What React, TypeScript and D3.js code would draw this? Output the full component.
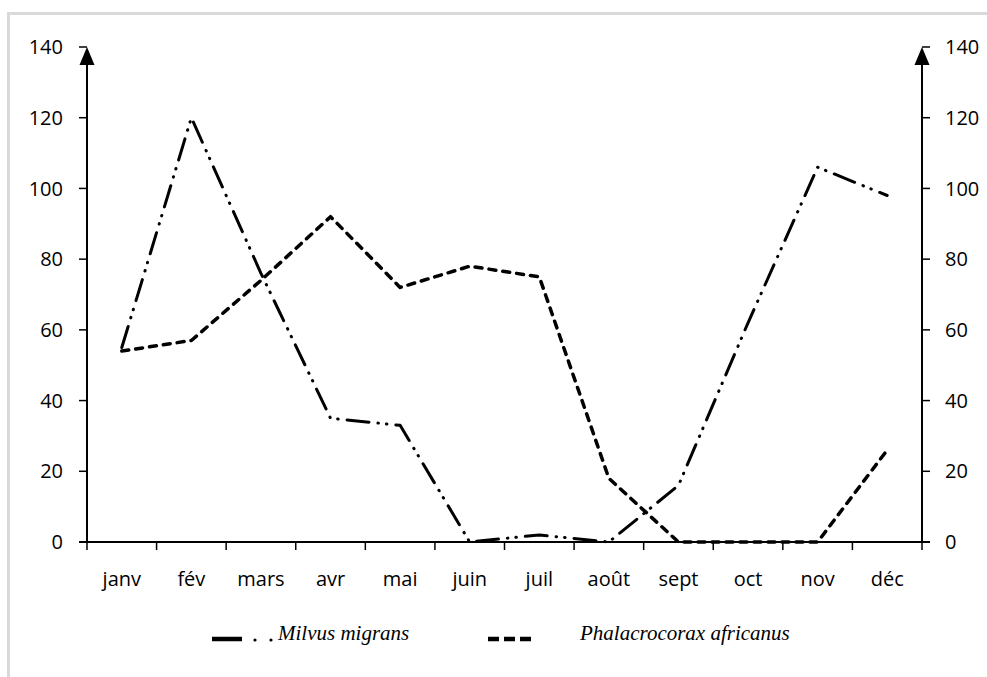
import React from "react";
import * as d3 from "d3";

const months = ["janv", "fév", "mars", "avr", "mai", "juin", "juil", "août", "sept", "oct", "nov", "déc"];
const milvus = [55, 120, 76, 35, 33, 0, 2, 0, 16, 62, 106, 98];
const phalacrocorax = [54, 57, 74, 92, 72, 78, 75, 18, 0, 0, 0, 26];
const yTicks = [0, 20, 40, 60, 80, 100, 120, 140];
const seriesNames = ["Milvus migrans", "Phalacrocorax africanus"];

const W = 987, H = 677;
const left = 87, right = 922, top = 47, bottom = 542;

export default function App() {
  const x = d3.scaleBand<string>().domain(months).range([left, right]);
  const y = d3.scaleLinear().domain([0, 140]).range([bottom, top]);
  const line = d3.line<number>()
    .x((_, i) => (x(months[i]) as number) + x.bandwidth() / 2)
    .y((d) => y(d));
  const font = "'Open Sans', 'DejaVu Sans', sans-serif";
  const serif = "'Liberation Serif', 'Times New Roman', serif";
  const milvusDash = "22 9 0.5 8 0.5 9";
  const phalDash = "7 7";
  const boundaries = d3.range(months.length + 1).map((i) => left + i * x.bandwidth());
  return (
    <svg width={W} height={H} style={{ position: "absolute", left: 0, top: 0, background: "#fff" }}>
      <rect x={8.5} y={13.5} width={990} height={700} fill="#fff" stroke="#d9d9d9" strokeWidth={3} />
      {/* axes */}
      <line x1={left} y1={bottom} x2={left} y2={top + 14} stroke="#000" strokeWidth={2} />
      <line x1={right} y1={bottom} x2={right} y2={top + 14} stroke="#000" strokeWidth={2} />
      <path d={`M${left},${top} L${left - 7.5},${top + 18} L${left + 7.5},${top + 18} Z`} fill="#000" />
      <path d={`M${right},${top} L${right - 7.5},${top + 18} L${right + 7.5},${top + 18} Z`} fill="#000" />
      <line x1={left - 8} y1={bottom} x2={right + 8} y2={bottom} stroke="#000" strokeWidth={2} />
      {yTicks.map((t) => (
        <g key={t}>
          <line x1={left - 8} x2={left} y1={y(t)} y2={y(t)} stroke="#000" strokeWidth={1.5} />
          <line x1={right} x2={right + 8} y1={y(t)} y2={y(t)} stroke="#000" strokeWidth={1.5} />
          <text x={63} y={y(t)} dy="0.36em" textAnchor="end" fontFamily={font} fontSize={20} fill="#000">{t}</text>
          <text x={945} y={y(t)} dy="0.36em" textAnchor="start" fontFamily={font} fontSize={20} fill="#000">{t}</text>
        </g>
      ))}
      {boundaries.map((b, i) => (
        <line key={i} x1={b} x2={b} y1={bottom} y2={bottom + 8} stroke="#000" strokeWidth={1.5} />
      ))}
      {months.map((m) => (
        <text key={m} x={(x(m) as number) + x.bandwidth() / 2} y={586} textAnchor="middle" fontFamily={font} fontSize={20} fill="#000">{m}</text>
      ))}
      {/* series */}
      <path d={line(phalacrocorax) || ""} fill="none" stroke="#000" strokeWidth={3.5} strokeDasharray={phalDash} strokeLinecap="round" strokeLinejoin="round" />
      <path d={line(milvus) || ""} fill="none" stroke="#000" strokeWidth={3} strokeDasharray={milvusDash} strokeLinecap="round" strokeLinejoin="round" />
      {/* legend */}
      <line x1={212} x2={242} y1={639} y2={639} stroke="#000" strokeWidth={4.5} />
      <circle cx={255} cy={640} r={1.6} fill="#000" />
      <circle cx={271} cy={640} r={1.6} fill="#000" />
      <text x={278} y={640} fontFamily={serif} fontStyle="italic" fontSize={21} fill="#000">{seriesNames[0]}</text>
      <line x1={488} x2={531} y1={639} y2={639} stroke="#000" strokeWidth={4.5} strokeDasharray="11 5" />
      <text x={580} y={640} fontFamily={serif} fontStyle="italic" fontSize={21} fill="#000">{seriesNames[1]}</text>
    </svg>
  );
}
